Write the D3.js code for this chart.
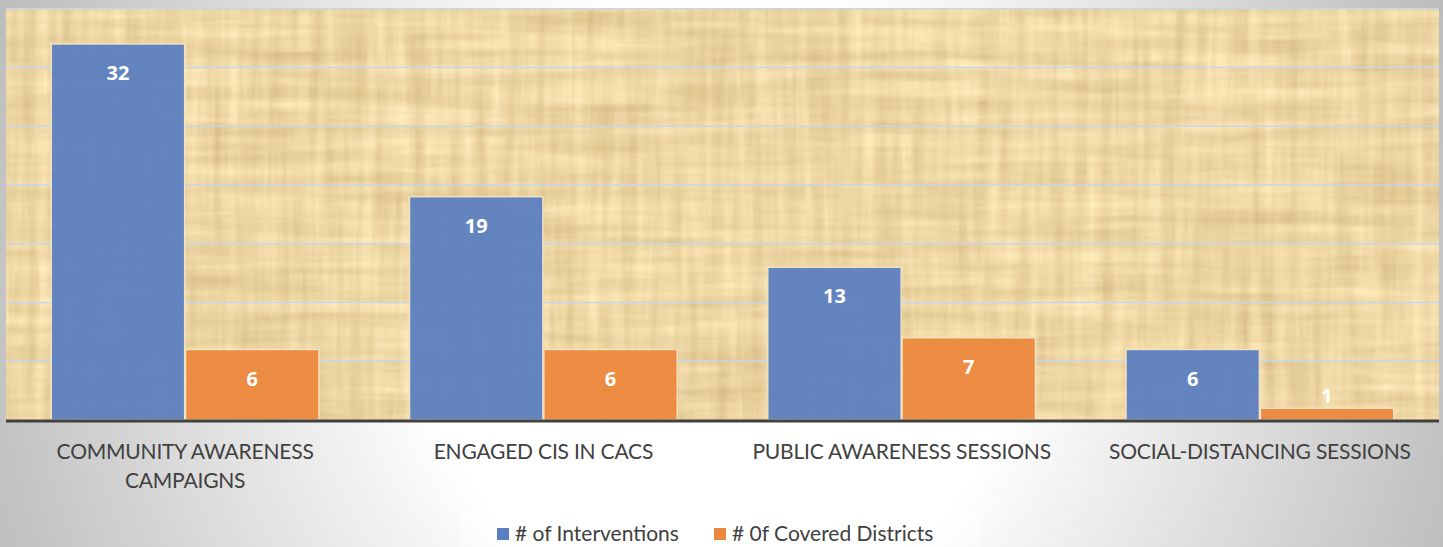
<!DOCTYPE html>
<html>
<head>
<meta charset="utf-8">
<script src="https://cdn.jsdelivr.net/npm/d3@7"></script>
<style>
  html, body { margin: 0; padding: 0; background: #fff; }
  svg { display: block; }
</style>
</head>
<body>
<div id="chart"></div>
<script>
const categories = ["COMMUNITY AWARENESS CAMPAIGNS", "ENGAGED CIS IN CACS", "PUBLIC AWARENESS SESSIONS", "SOCIAL-DISTANCING SESSIONS"]
const seriesNames = ["# of Interventions", "# 0f Covered Districts"]
const interventions = [32, 19, 13, 6]
const coveredDistricts = [6, 6, 7, 1]
const gridTicks = [5, 10, 15, 20, 25, 30, 35]

const colors = ["#5a7ec0", "#ec883d"]

const width = 1443
const height = 547
const plot = {left: 6, right: 1439, top: 8.75, bottom: 420}

const svg = d3.select("#chart")
  .append("svg")
  .attr("width", width)
  .attr("height", height)

const defs = svg.append("defs")

// slide background: soft grey radial gradient
const bg = defs.append("radialGradient")
  .attr("id", "bg")
  .attr("gradientUnits", "userSpaceOnUse")
  .attr("cx", 720).attr("cy", 300).attr("r", 800)
bg.append("stop").attr("offset", 0).attr("stop-color", "#ffffff")
bg.append("stop").attr("offset", 0.38).attr("stop-color", "#ffffff")
bg.append("stop").attr("offset", 1).attr("stop-color", "#b9b9b9")

// papyrus-ish texture for the plot area
const f = defs.append("filter")
  .attr("id", "papyrus")
  .attr("x", 0).attr("y", 0).attr("width", 1).attr("height", 1)
  .attr("color-interpolation-filters", "sRGB")
f.append("feTurbulence")
  .attr("type", "fractalNoise")
  .attr("baseFrequency", "0.08 0.006")
  .attr("numOctaves", 3).attr("seed", 4)
  .attr("result", "vert")
f.append("feTurbulence")
  .attr("type", "fractalNoise")
  .attr("baseFrequency", "0.006 0.08")
  .attr("numOctaves", 3).attr("seed", 9)
  .attr("result", "horiz")
f.append("feComposite")
  .attr("in", "vert").attr("in2", "horiz")
  .attr("operator", "arithmetic")
  .attr("k1", 0).attr("k2", 0.5).attr("k3", 0.5).attr("k4", 0)
  .attr("result", "mix")
f.append("feColorMatrix")
  .attr("in", "mix")
  .attr("type", "matrix")
  .attr("values", "0.26 0 0 0 0.80  0.3 0 0 0 0.69  0.34 0 0 0 0.47  0 0 0 0 1")

svg.append("rect")
  .attr("width", width).attr("height", height)
  .attr("fill", "url(#bg)")

svg.append("rect")
  .attr("x", plot.left).attr("y", plot.top)
  .attr("width", plot.right - plot.left)
  .attr("height", plot.bottom - plot.top)
  .attr("fill", "#ecd49b")
  .attr("filter", "url(#papyrus)")

const x0 = d3.scaleBand()
  .domain(categories)
  .range([plot.left, plot.right])
  .paddingInner(0.25)
  .paddingOuter(0.125)

const x1 = d3.scaleBand()
  .domain(seriesNames)
  .range([0, x0.bandwidth()])

const y = d3.scaleLinear()
  .domain([0, 35])
  .range([plot.bottom, plot.top])

// gridlines
svg.append("g")
  .selectAll("line")
  .data(gridTicks)
  .join("line")
  .attr("x1", plot.left).attr("x2", plot.right)
  .attr("y1", d => y(d)).attr("y2", d => y(d))
  .attr("stroke", "#c6d5ee")
  .attr("stroke-width", 1.6)

const rows = categories.map((c, i) => ({
  category: c,
  values: [interventions[i], coveredDistricts[i]]
}))

const group = svg.append("g")
  .selectAll("g")
  .data(rows)
  .join("g")
  .attr("transform", d => `translate(${x0(d.category)},0)`)

const bar = group.selectAll("g")
  .data(d => d.values.map((v, j) => ({series: seriesNames[j], j, value: v})))
  .join("g")

bar.append("rect")
  .attr("x", d => x1(d.series) + 0.5)
  .attr("width", x1.bandwidth() - 1)
  .attr("y", d => y(d.value))
  .attr("height", d => y(0) - y(d.value))
  .attr("fill", d => colors[d.j])
  .attr("fill-opacity", 0.94)
  .attr("stroke", "#f1e3c4")
  .attr("stroke-width", 1.4)

bar.append("text")
  .attr("x", d => x1(d.series) + x1.bandwidth() / 2)
  .attr("y", d => (y(0) - y(d.value) > 40) ? y(d.value) + 36 : y(d.value) - 5)
  .attr("text-anchor", "middle")
  .attr("fill", "#ffffff")
  .style("font-family", "'Open Sans', Lato, sans-serif")
  .style("font-weight", 700)
  .style("font-size", "20px")
  .text(d => d.value)

// axis line
svg.append("line")
  .attr("x1", plot.left).attr("x2", plot.right)
  .attr("y1", plot.bottom + 1).attr("y2", plot.bottom + 1)
  .attr("stroke", "#404040")
  .attr("stroke-width", 3)

// category labels, wrapped to the band
const labels = svg.append("g")
  .selectAll("text")
  .data(categories)
  .join("text")
  .attr("x", d => x0(d) + x0.bandwidth() / 2)
  .attr("y", plot.bottom + 39)
  .attr("text-anchor", "middle")
  .attr("fill", "#404040")
  .style("font-family", "Lato, 'Open Sans', sans-serif")
  .style("font-size", "21px")
  .style("letter-spacing", "-0.2px")

labels.each(function(d) {
  const text = d3.select(this)
  const words = d.split(" ")
  const maxWidth = x0.step() * 0.9
  let line = []
  let tspan = text.append("tspan").attr("x", text.attr("x")).attr("dy", 0)
  words.forEach(w => {
    line.push(w)
    tspan.text(line.join(" "))
    if (tspan.node().getComputedTextLength() > maxWidth && line.length > 1) {
      line.pop()
      tspan.text(line.join(" "))
      line = [w]
      tspan = text.append("tspan").attr("x", text.attr("x")).attr("dy", 29).text(w)
    }
  })
})

// legend
svg.append("rect")
  .attr("x", 462).attr("y", 512)
  .attr("width", 520).attr("height", 40)
  .attr("fill", "#ffffff")
  .attr("fill-opacity", 0.35)

const legendX = [497, 714]
const legend = svg.append("g")
  .selectAll("g")
  .data(seriesNames)
  .join("g")
  .attr("transform", (d, i) => `translate(${legendX[i]},528)`)

legend.append("rect")
  .attr("width", 12).attr("height", 12)
  .attr("fill", (d, i) => colors[i])

legend.append("text")
  .attr("x", 18)
  .attr("y", 13)
  .attr("fill", "#404040")
  .style("font-family", "Lato, 'Open Sans', sans-serif")
  .style("font-size", "21px")
  .text(d => d)
</script>
</body>
</html>
